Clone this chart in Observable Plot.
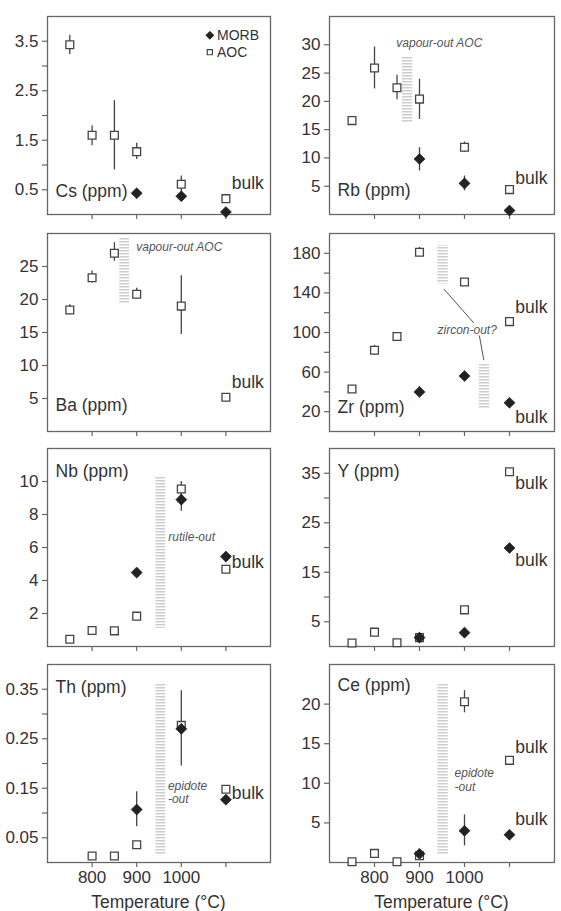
<!DOCTYPE html>
<html>
<head>
<meta charset="utf-8">
<script src="https://cdn.jsdelivr.net/npm/d3@7"></script>
<script src="https://cdn.jsdelivr.net/npm/@observablehq/plot@0.6"></script>
<style>
  body { margin: 0; background: #fff; font-family: "Liberation Sans", Arial, sans-serif; }
  #fig { position: relative; width: 561px; height: 911px; overflow: hidden; }
  .panel { position: absolute; }
  .panel svg { display: block; overflow: visible; max-width: none; }
  .xtitle { position: absolute; top: 893px; font-size: 17.5px; line-height: 18px; color: #333; text-align: center; }
</style>
</head>
<body>
<div id="fig"></div>
<script>
// Run temperatures (°C); the bulk starting composition is plotted in its own column at 1100
const aocTemps  = [750, 800, 850, 900, 1000, 1100];
const morbTemps = [900, 1000, 1100];
const xTicks = [800, 900, 1000, 1100];
const xLabels = [800, 900, 1000];

// Cs (ppm)
const csAOC   = [3.43, 1.60, 1.60, 1.27, 0.61, 0.32];
const csAOCLo = [3.23, 1.39, 0.90, 1.11, 0.45, null];
const csAOCHi = [3.62, 1.79, 2.30, 1.44, 0.78, null];
const csMORB  = [0.43, 0.37, 0.05];
const csTicks = [0.5, 1, 1.5, 2, 2.5, 3, 3.5];
const csLabels = [0.5, 1.5, 2.5, 3.5];

// Rb (ppm)
const rbAOC    = [16.6, 25.9, 22.4, 20.4, 11.9, 4.4];
const rbAOCLo  = [16.0, 22.2, 20.3, 16.8, 11.0, null];
const rbAOCHi  = [17.3, 29.6, 24.6, 23.9, 12.8, null];
const rbMORB   = [9.8, 5.5, 0.7];
const rbMORBLo = [7.7, 4.2, null];
const rbMORBHi = [11.8, 6.8, null];
const rbTicks  = [5, 10, 15, 20, 25, 30];

// Ba (ppm) – AOC only
const baAOC   = [18.4, 23.3, 27.0, 20.8, 19.0, 5.2];
const baAOCLo = [17.7, 22.5, 25.8, 20.1, 14.7, null];
const baAOCHi = [19.2, 24.3, 28.6, 21.7, 23.6, null];
const baTicks = [5, 10, 15, 20, 25];

// Zr (ppm)
const zrAOC   = [43, 82, 96, 181, 151, 111];
const zrAOCLo = [null, 77, null, 177, null, null];
const zrAOCHi = [null, 87, null, 186, null, null];
const zrMORB  = [40, 56, 29];
const zrTicks = [20, 40, 60, 80, 100, 120, 140, 160, 180];
const zrLabels = [20, 60, 100, 140, 180];

// Nb (ppm)
const nbAOC    = [0.44, 0.97, 0.95, 1.84, 9.55, 4.68];
const nbAOCLo  = [null, null, null, null, 9.1, null];
const nbAOCHi  = [null, null, null, null, 10.0, null];
const nbMORB   = [4.48, 8.9, 5.45];
const nbMORBLo = [null, 8.2, null];
const nbMORBHi = [null, 9.4, null];
const nbTicks  = [2, 4, 6, 8, 10];

// Y (ppm)
const yAOC   = [0.7, 2.9, 0.75, 1.8, 7.4, 35.3];
const yAOCLo = [null, null, null, 1.2, null, null];
const yAOCHi = [null, null, null, 2.4, null, null];
const yMORB  = [1.8, 2.8, 19.9];
const yTicks = [5, 10, 15, 20, 25, 30, 35];
const yLabels = [5, 15, 25, 35];

// Th (ppm)
const thAOC    = [null, 0.013, 0.013, 0.036, 0.277, 0.148];
const thMORB   = [0.107, 0.270, 0.127];
const thMORBLo = [0.072, 0.195, null];
const thMORBHi = [0.143, 0.347, null];
const thTicks  = [0.05, 0.1, 0.15, 0.2, 0.25, 0.3, 0.35];
const thLabels = [0.05, 0.15, 0.25, 0.35];

// Ce (ppm)
const ceAOC    = [0.1, 1.15, 0.1, 0.85, 20.3, 12.9];
const ceAOCLo  = [null, null, null, null, 18.9, null];
const ceAOCHi  = [null, null, null, null, 21.7, null];
const ceMORB   = [1.1, 4.0, 3.5];
const ceMORBLo = [null, 2.1, null];
const ceMORBHi = [null, 6.0, null];
const ceTicks  = [5, 10, 15, 20];

// Phase-out intervals (temperature span, concentration span) drawn as hatched bands
const rbBand = [{t1: 862, t2: 885, v1: 16.2, v2: 27.9}];
const baBand = [{t1: 862, t2: 884, v1: 19.3, v2: 29.4}];
const zrBand = [{t1: 941, t2: 964, v1: 149, v2: 188}, {t1: 1033, t2: 1056, v1: 23, v2: 67.5}];
const nbBand = [{t1: 943, t2: 965, v1: 1.1, v2: 10.25}];
const thBand = [{t1: 943, t2: 965, v1: 0.016, v2: 0.362}];
const ceBand = [{t1: 941, t2: 964, v1: 1.0, v2: 22.6}];

// Leader lines tying "zircon-out?" to its two bands
const zrLeaders = [
  {t1: 954, v1: 144, t2: 1021, v2: 109.5},
  {t1: 1033, v1: 97, t2: 1043, v2: 72}
];

const INK = "#333";
const FRAME = "#666";
const FONT = "'Liberation Sans', Arial, Helvetica, sans-serif";
const rowTops = [16, 233, 448, 664];
const FRAME_H = 198;

function table(temps, vals, lo, hi) {
  return temps
    .map((t, i) => ({t, v: vals[i], lo: lo ? lo[i] : null, hi: hi ? hi[i] : null}))
    .filter(d => d.v != null);
}

function hatchDefs() {
  const defs = d3.create("svg:defs");
  const p = defs.append("pattern")
    .attr("id", "hatch").attr("patternUnits", "userSpaceOnUse")
    .attr("width", 6).attr("height", 3);
  p.append("rect").attr("width", 6).attr("height", 1.5).attr("fill", "#cdcdcd");
  return defs.node();
}

function note(text, t, v, anchor = "start") {
  return {text, t, v, anchor};
}

function noteMarks(notes, anchor) {
  return Plot.text(notes.filter(d => d.anchor === anchor), {
    x: "t", y: "v", text: "text", textAnchor: anchor,
    fontStyle: "italic", fontSize: 12, fill: "#555"
  });
}

function panel(cfg) {
  const left = cfg.col === 0;
  const width = left ? 280 : 281;
  const mt = 10, mb = cfg.bottom ? 36 : 10;
  const aoc = table(aocTemps, cfg.aoc, cfg.aocLo, cfg.aocHi);
  const morb = cfg.morb ? table(morbTemps, cfg.morb, cfg.morbLo, cfg.morbHi) : [];
  const labels = cfg.yLabels || cfg.yTicks;
  const fmt = d3.format(cfg.yFormat || "");
  const errs = [...morb, ...aoc].filter(d => d.lo != null);
  const notes = cfg.notes || [];

  const svg = Plot.plot({
    width,
    height: mt + FRAME_H + mb,
    marginLeft: left ? 47 : 49,
    marginRight: left ? 10 : 7,
    marginTop: mt,
    marginBottom: mb,
    style: {fontFamily: FONT, color: INK, background: "transparent", overflow: "visible"},
    x: {domain: [700, 1200]},
    y: {domain: cfg.yDomain},
    marks: [
      hatchDefs,
      Plot.rect(cfg.bands || [], {x1: "t1", x2: "t2", y1: "v1", y2: "v2", fill: "url(#hatch)"}),
      Plot.link(cfg.leaders || [], {x1: "t1", y1: "v1", x2: "t2", y2: "v2", stroke: "#555", strokeWidth: 1}),
      Plot.frame({stroke: FRAME, strokeWidth: 1.3}),
      Plot.axisY({
        ticks: cfg.yTicks, tickSize: 5, tickPadding: 4, stroke: FRAME, strokeWidth: 1.2,
        fontSize: 17, fill: INK, label: null,
        tickFormat: d => labels.includes(d) ? fmt(d) : ""
      }),
      Plot.axisX({
        ticks: xTicks, tickSize: 5, tickPadding: 3, stroke: FRAME, strokeWidth: 1.2,
        fontSize: 17, fill: INK, label: null,
        tickFormat: d => cfg.bottom && xLabels.includes(d) ? String(d) : ""
      }),
      Plot.ruleX(errs, {x: "t", y1: "lo", y2: "hi", stroke: "#444", strokeWidth: 1.3}),
      Plot.dot(aoc, {x: "t", y: "v", symbol: "square", r: 4.4, fill: "white", stroke: "#444", strokeWidth: 1.3}),
      Plot.dot(morb, {x: "t", y: "v", symbol: "diamond2", r: 5, fill: "#222", stroke: "#222", strokeWidth: 0.6}),
      noteMarks(notes, "start"),
      noteMarks(notes, "middle"),
      Plot.text(cfg.bulk, {x: () => 1113, y: d => d, text: () => "bulk", textAnchor: "start", fontSize: 17.5, fill: INK}),
      Plot.text([cfg.label], {x: () => 718, y: () => cfg.labelAt, text: d => d, textAnchor: "start", fontSize: 17.5, fill: INK}),
      ...(cfg.extra || [])
    ]
  });

  const div = document.createElement("div");
  div.className = "panel";
  div.style.left = (left ? 0 : 280) + "px";
  div.style.top = (rowTops[cfg.row] - mt) + "px";
  div.style.width = width + "px";
  div.appendChild(svg);
  document.getElementById("fig").appendChild(div);
}

// Legend entries shown in the Cs panel
const legendItems = [
  {name: "MORB", symbol: "diamond2", v: 3.62},
  {name: "AOC", symbol: "square", v: 3.28}
];

panel({
  col: 0, row: 0, yDomain: [0, 4], yTicks: csTicks, yLabels: csLabels, yFormat: ".1f",
  aoc: csAOC, aocLo: csAOCLo, aocHi: csAOCHi, morb: csMORB,
  label: "Cs (ppm)", labelAt: 0.46, bulk: [0.63],
  extra: [
    Plot.dot(legendItems, {
      x: () => 1064, y: "v", symbol: "symbol",
      r: d => d.symbol === "square" ? 3.6 : 4.3,
      fill: d => d.symbol === "square" ? "white" : "#222",
      stroke: d => d.symbol === "square" ? "#444" : "#222", strokeWidth: 1.2
    }),
    Plot.text(legendItems, {x: () => 1080, y: "v", text: "name", textAnchor: "start", fontSize: 14, fill: INK})
  ]
});

panel({
  col: 1, row: 0, yDomain: [0, 35], yTicks: rbTicks,
  aoc: rbAOC, aocLo: rbAOCLo, aocHi: rbAOCHi, morb: rbMORB, morbLo: rbMORBLo, morbHi: rbMORBHi,
  label: "Rb (ppm)", labelAt: 4.3, bulk: [6.4], bands: rbBand,
  notes: [note("vapour-out AOC", 944, 30.2, "middle")]
});

panel({
  col: 0, row: 1, yDomain: [0, 30], yTicks: baTicks,
  aoc: baAOC, aocLo: baAOCLo, aocHi: baAOCHi,
  label: "Ba (ppm)", labelAt: 4.0, bulk: [7.4], bands: baBand,
  notes: [note("vapour-out AOC", 899, 27.9)]
});

panel({
  col: 1, row: 1, yDomain: [0, 200], yTicks: zrTicks, yLabels: zrLabels,
  aoc: zrAOC, aocLo: zrAOCLo, aocHi: zrAOCHi, morb: zrMORB,
  label: "Zr (ppm)", labelAt: 24, bulk: [125, 14.4], bands: zrBand, leaders: zrLeaders,
  notes: [note("zircon-out?", 1006, 102.7, "middle")]
});

panel({
  col: 0, row: 2, yDomain: [0, 12], yTicks: nbTicks,
  aoc: nbAOC, aocLo: nbAOCLo, aocHi: nbAOCHi, morb: nbMORB, morbLo: nbMORBLo, morbHi: nbMORBHi,
  label: "Nb (ppm)", labelAt: 10.6, bulk: [5.1], bands: nbBand,
  notes: [note("rutile-out", 971, 6.6)]
});

panel({
  col: 1, row: 2, yDomain: [0, 40], yTicks: yTicks, yLabels: yLabels,
  aoc: yAOC, aocLo: yAOCLo, aocHi: yAOCHi, morb: yMORB,
  label: "Y (ppm)", labelAt: 35.4, bulk: [32.9, 17.4]
});

panel({
  col: 0, row: 3, bottom: true, yDomain: [0, 0.4], yTicks: thTicks, yLabels: thLabels, yFormat: ".2f",
  aoc: thAOC, morb: thMORB, morbLo: thMORBLo, morbHi: thMORBHi,
  label: "Th (ppm)", labelAt: 0.354, bulk: [0.14], bands: thBand,
  notes: [note("epidote", 970, 0.154), note("-out", 970, 0.127)]
});

panel({
  col: 1, row: 3, bottom: true, yDomain: [0, 25], yTicks: ceTicks,
  aoc: ceAOC, aocLo: ceAOCLo, aocHi: ceAOCHi, morb: ceMORB, morbLo: ceMORBLo, morbHi: ceMORBHi,
  label: "Ce (ppm)", labelAt: 22.3, bulk: [14.5, 5.4], bands: ceBand,
  notes: [note("epidote", 978, 11.3), note("-out", 978, 9.5)]
});

// Shared x-axis titles under the bottom row
for (const [l, w] of [[47, 223], [329, 225]]) {
  const t = document.createElement("div");
  t.className = "xtitle";
  t.style.left = l + "px";
  t.style.width = w + "px";
  t.textContent = "Temperature (°C)";
  document.getElementById("fig").appendChild(t);
}
</script>
</body>
</html>
